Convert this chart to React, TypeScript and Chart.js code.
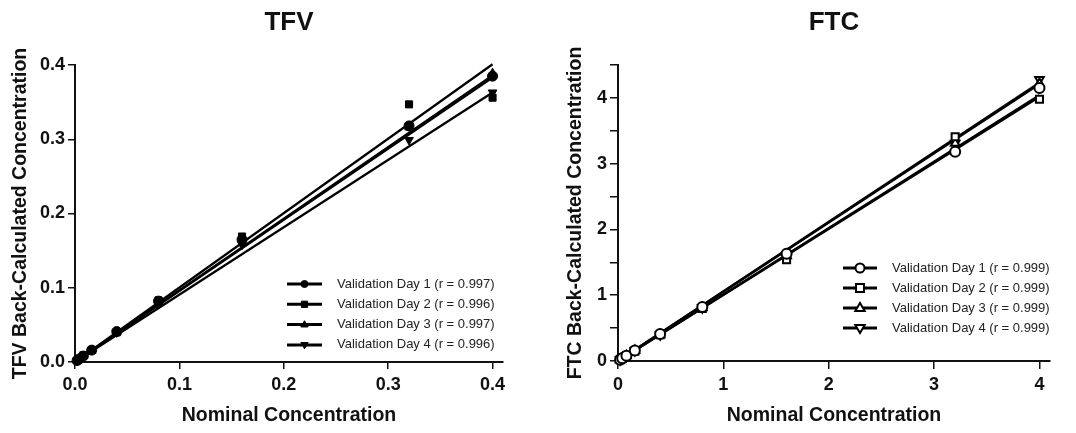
import React, { useEffect, useRef } from 'react';
import { Chart, registerables } from 'chart.js';
Chart.register(...registerables);

// ---------- Data ----------
const dayLabels = ['Validation Day 1', 'Validation Day 2', 'Validation Day 3', 'Validation Day 4'];

const tfvNominal = [0.002, 0.004, 0.008, 0.016, 0.04, 0.08, 0.16, 0.32, 0.4];
const tfvDay1 = [0.002, 0.004, 0.008, 0.016, 0.041, 0.082, 0.165, 0.318, 0.385];
const tfvDay2 = [0.002, 0.004, 0.009, 0.016, 0.040, 0.083, 0.169, 0.347, 0.356];
const tfvDay3 = [0.002, 0.004, 0.008, 0.015, 0.040, 0.080, 0.160, 0.316, 0.389];
const tfvDay4 = [0.002, 0.004, 0.008, 0.016, 0.040, 0.078, 0.158, 0.299, 0.363];
const tfvFitEnd = [0.386, 0.401, 0.383, 0.363];
const tfvR = ['0.997', '0.996', '0.997', '0.996'];

const ftcNominal = [0.02, 0.04, 0.08, 0.16, 0.4, 0.8, 1.6, 3.2, 4];
const ftcDay1 = [0.02, 0.04, 0.08, 0.16, 0.41, 0.82, 1.63, 3.18, 4.15];
const ftcDay2 = [0.02, 0.04, 0.08, 0.15, 0.40, 0.80, 1.54, 3.41, 3.98];
const ftcDay3 = [0.02, 0.04, 0.08, 0.16, 0.40, 0.81, 1.60, 3.31, 4.22];
const ftcDay4 = [0.02, 0.04, 0.08, 0.16, 0.40, 0.81, 1.60, 3.31, 4.28];
const ftcFitEnd = [4.04, 4.02, 4.21, 4.23];
const ftcR = ['0.999', '0.999', '0.999', '0.999'];

const tfvXTicks = [0, 0.1, 0.2, 0.3, 0.4];
const tfvYTicks = [0, 0.1, 0.2, 0.3, 0.4];
const ftcXTicks = [0, 1, 2, 3, 4];
const ftcYTicks = [0, 0.5, 1, 1.5, 2, 2.5, 3, 3.5, 4, 4.5];

const pointStyles = ['circle', 'rect', 'triangle', 'triangle'];
const pointRotations = [0, 0, 0, 180];

const FONT = '"Liberation Sans", Arial, Helvetica, sans-serif';

function drawMarker(ctx: CanvasRenderingContext2D, style: string, rot: number, x: number, y: number, r: number, open: boolean) {
  ctx.save();
  ctx.translate(x, y);
  ctx.rotate((rot * Math.PI) / 180);
  ctx.beginPath();
  if (style === 'circle') {
    ctx.arc(0, 0, r, 0, Math.PI * 2);
  } else if (style === 'rect') {
    const s = r * 0.886 * 2;
    ctx.rect(-s / 2, -s / 2, s, s);
  } else {
    const h = r * 1.5;
    ctx.moveTo(0, -r * 1.1);
    ctx.lineTo(r * 1.05, h * 0.45);
    ctx.lineTo(-r * 1.05, h * 0.45);
    ctx.closePath();
  }
  ctx.fillStyle = open ? '#fff' : '#000';
  ctx.fill();
  ctx.lineWidth = open ? 2 : 1;
  ctx.strokeStyle = '#000';
  ctx.stroke();
  ctx.restore();
}

// Title centred over the plot area, as in the reference
const areaTitle = {
  id: 'areaTitle',
  afterDraw(chart: any, _args: any, opts: any) {
    if (!opts || !opts.text) return;
    const ctx: CanvasRenderingContext2D = chart.ctx;
    const { left, right } = chart.chartArea;
    ctx.save();
    ctx.fillStyle = '#111';
    ctx.font = `bold ${opts.size}px ${FONT}`;
    ctx.textAlign = 'center';
    ctx.textBaseline = 'middle';
    ctx.fillText(opts.text, (left + right) / 2 + (opts.dx || 0), opts.y);
    ctx.restore();
  },
};

const insideLegend = {
  id: 'insideLegend',
  afterDraw(chart: any, _args: any, opts: any) {
    if (!opts || !opts.items) return;
    const ctx: CanvasRenderingContext2D = chart.ctx;
    ctx.save();
    opts.items.forEach((it: any, i: number) => {
      const y = opts.y + i * opts.spacing;
      ctx.strokeStyle = '#000';
      ctx.lineWidth = 3;
      ctx.beginPath();
      ctx.moveTo(opts.x0, y);
      ctx.lineTo(opts.x1, y);
      ctx.stroke();
      drawMarker(ctx, it.style, it.rot, (opts.x0 + opts.x1) / 2, y, opts.r, opts.open);
      ctx.fillStyle = '#222';
      ctx.font = `13px ${FONT}`;
      ctx.textBaseline = 'middle';
      ctx.textAlign = 'left';
      ctx.fillText(it.label, opts.textX, y);
    });
    ctx.restore();
  },
};

interface PanelSpec {
  title: string;
  yTitle: string;
  nominal: number[];
  days: number[][];
  fitEnd: number[];
  r: string[];
  xMax: number;
  yMax: number;
  xTicks: number[];
  yTicks: number[];
  xFmt: (v: number) => string;
  yFmt: (v: number) => string;
  open: boolean;
  yAxisWidth: number;
  padRight: number;
  xAxisHeight: number;
  yTitlePad: number;
  fitWidth: number;
  pointR: number;
  tickLen: number;
  legend: any;
}

function buildConfig(p: PanelSpec): any {
  const datasets: any[] = [];
  p.days.forEach((vals, i) => {
    datasets.push({
      label: dayLabels[i],
      data: p.nominal.map((x, k) => ({ x, y: vals[k] })),
      showLine: false,
      pointStyle: pointStyles[i],
      pointRotation: pointRotations[i],
      pointRadius: p.pointR,
      pointBackgroundColor: p.open ? '#fff' : '#000',
      pointBorderColor: '#000',
      pointBorderWidth: p.open ? 2 : 1,
      clip: false,
      order: 0,
    });
  });
  p.fitEnd.forEach((end, i) => {
    datasets.push({
      label: dayLabels[i] + ' fit',
      data: [
        { x: 0, y: 0 },
        { x: p.nominal[p.nominal.length - 1], y: end },
      ],
      showLine: true,
      borderColor: '#000',
      borderWidth: p.fitWidth,
      pointRadius: 0,
      clip: false,
      order: 1,
    });
  });
  const legendItems = p.days.map((_, i) => ({
    label: `${dayLabels[i]} (r = ${p.r[i]})`,
    style: pointStyles[i],
    rot: pointRotations[i],
  }));
  return {
    type: 'scatter',
    data: { datasets },
    plugins: [insideLegend, areaTitle],
    options: {
      animation: false,
      responsive: true,
      maintainAspectRatio: false,
      events: [],
      layout: { padding: { left: 0, right: p.padRight, top: 65, bottom: 0 } },
      plugins: {
        legend: { display: false },
        tooltip: { enabled: false },
        title: { display: false },
        areaTitle: { text: p.title, size: 26, y: 23 },
        insideLegend: { ...p.legend, open: p.open, items: legendItems },
      },
      scales: {
        x: {
          type: 'linear',
          min: 0,
          max: p.xMax,
          afterBuildTicks: (s: any) => {
            s.ticks = p.xTicks.map((v) => ({ value: v }));
          },
          afterFit: (s: any) => {
            s.height = p.xAxisHeight;
          },
          border: { display: true, color: '#111', width: 2 },
          grid: { drawOnChartArea: false, drawTicks: true, tickLength: p.tickLen, color: '#111', lineWidth: 1.5 },
          ticks: {
            color: '#111',
            padding: 5,
            maxRotation: 0,
            font: { family: FONT, size: 18, weight: 'bold' },
            callback: (v: any) => p.xFmt(Number(v)),
          },
          title: {
            display: true,
            text: 'Nominal Concentration',
            color: '#111',
            font: { family: FONT, size: 19.5, weight: 'bold' },
            padding: { top: 0, bottom: 6 },
          },
        },
        y: {
          type: 'linear',
          min: 0,
          max: p.yMax,
          afterBuildTicks: (s: any) => {
            s.ticks = p.yTicks.map((v) => ({ value: v }));
          },
          afterFit: (s: any) => {
            s.width = p.yAxisWidth;
          },
          border: { display: true, color: '#111', width: 2 },
          grid: { drawOnChartArea: false, drawTicks: true, tickLength: p.tickLen, color: '#111', lineWidth: 1.5 },
          ticks: {
            color: '#111',
            padding: 3,
            font: { family: FONT, size: 18, weight: 'bold' },
            callback: (v: any) => p.yFmt(Number(v)),
          },
          title: {
            display: true,
            text: p.yTitle,
            color: '#111',
            font: { family: FONT, size: 19.5, weight: 'bold' },
            padding: { top: p.yTitlePad, bottom: 0 },
          },
        },
      },
    },
  };
}

const tfvSpec: PanelSpec = {
  title: 'TFV',
  yTitle: 'TFV Back-Calculated Concentration',
  nominal: tfvNominal,
  days: [tfvDay1, tfvDay2, tfvDay3, tfvDay4],
  fitEnd: tfvFitEnd,
  r: tfvR,
  xMax: 0.41,
  yMax: 0.4,
  xTicks: tfvXTicks,
  yTicks: tfvYTicks,
  xFmt: (v) => v.toFixed(1),
  yFmt: (v) => v.toFixed(1),
  open: false,
  yAxisWidth: 75,
  padRight: 35,
  xAxisHeight: 71,
  yTitlePad: 9,
  fitWidth: 2.2,
  pointR: 5,
  tickLen: 7,
  legend: { x0: 287, x1: 322, textX: 337, y: 284, spacing: 20.3, r: 3.5 },
};

const ftcSpec: PanelSpec = {
  title: 'FTC',
  yTitle: 'FTC Back-Calculated Concentration',
  nominal: ftcNominal,
  days: [ftcDay1, ftcDay2, ftcDay3, ftcDay4],
  fitEnd: ftcFitEnd,
  r: ftcR,
  xMax: 4.1,
  yMax: 4.5,
  xTicks: ftcXTicks,
  yTicks: ftcYTicks,
  xFmt: (v) => String(v),
  yFmt: (v) => (Number.isInteger(v) ? String(v) : ''),
  open: true,
  yAxisWidth: 80,
  padRight: 26,
  xAxisHeight: 72,
  yTitlePad: 26,
  fitWidth: 2.5,
  pointR: 5,
  tickLen: 8,
  legend: { x0: 305, x1: 339, textX: 354, y: 268, spacing: 20, r: 4.5 },
};

function Panel({ spec }: { spec: PanelSpec }) {
  const ref = useRef<HTMLCanvasElement | null>(null);
  useEffect(() => {
    if (!ref.current) return;
    const chart = new Chart(ref.current, buildConfig(spec));
    return () => chart.destroy();
  }, [spec]);
  return (
    <div style={{ position: 'relative', width: 538, height: 433 }}>
      <canvas ref={ref} />
    </div>
  );
}

export default function App() {
  return (
    <div
      style={{
        position: 'absolute',
        left: 0,
        top: 0,
        width: 1076,
        height: 433,
        display: 'flex',
        background: '#fff',
      }}
    >
      <Panel spec={tfvSpec} />
      <Panel spec={ftcSpec} />
    </div>
  );
}
